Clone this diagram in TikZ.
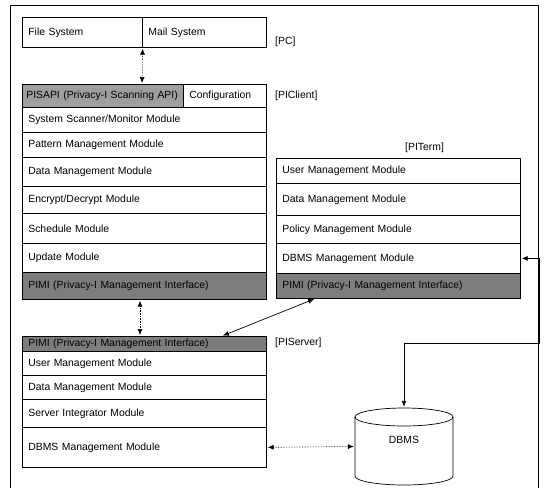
\documentclass[tikz,border=0pt]{standalone}
\usepackage{fontspec}
\setmainfont{Liberation Sans}
\usetikzlibrary{arrows.meta}
\definecolor{shadeA}{gray}{0.62}
\definecolor{shadeB}{gray}{0.49}
\newcommand\modfont{\fontsize{10.4}{12}\selectfont}
\begin{document}
\begin{tikzpicture}[x=1pt,y=-1pt,
  mod/.style={draw=black, line width=0.7pt, anchor=north west, inner xsep=6pt, inner ysep=0pt,
              text width=232pt, align=left, font=\modfont},
  pimi/.style={mod, fill=shadeB},
  tag/.style={anchor=west, inner sep=0pt, font=\modfont},
  dotarrow/.style={line width=0.6pt, densely dotted, {Latex[length=6pt,width=5pt]}-{Latex[length=6pt,width=5pt]}, shorten <=1pt, shorten >=1pt},
  solarrow/.style={line width=0.7pt, {Latex[length=6pt,width=5pt]}-{Latex[length=6pt,width=5pt]}, shorten <=1pt, shorten >=1pt}
]
\useasboundingbox (0,0) rectangle (546,488);
\fill[white] (0,0) rectangle (546,488);

% outer frame
\draw[line width=0.7pt] (10,488) -- (10,5) -- (538,5) -- (538,488);

% PC
\node[mod, text width=108pt, minimum height=30pt] (pcf) at (22,17) {File System};
\node[mod, text width=112pt, minimum height=30pt] (pcm) at (142,17) {Mail System};
\node[tag] (lpc) at (275,42) {[PC]};

% PIClient
\node[mod, minimum height=23pt, fill=shadeA, inner xsep=4pt, text width=153pt] (pisapi) at (22,84) {PISAPI (Privacy-I Scanning API)};
\node[mod, text width=71pt, minimum height=23pt] (conf) at (183,84) {Configuration};
\node[mod, minimum height=25pt] (c1) at (22,107) {System Scanner/Monitor Module};
\node[mod, minimum height=25pt] (c2) at (22,132) {Pattern Management Module};
\node[mod, minimum height=29pt] (c3) at (22,157) {Data Management Module};
\node[mod, minimum height=27pt] (c4) at (22,186) {Encrypt/Decrypt Module};
\node[mod, minimum height=30pt] (c5) at (22,213) {Schedule Module};
\node[mod, minimum height=29pt] (c6) at (22,243) {Update Module};
\node[pimi, minimum height=27pt] (c7) at (22,272) {PIMI (Privacy-I Management Interface)};
\node[tag] (lclient) at (275,96) {[PIClient]};

% PITerm
\node[tag] (lterm) at (405,148) {[PITerm]};
\node[mod, minimum height=25pt] (t1) at (276,158) {User Management Module};
\node[mod, minimum height=32pt] (t2) at (276,183) {Data Management Module};
\node[mod, minimum height=28pt] (t3) at (276,215) {Policy Management Module};
\node[mod, minimum height=30pt] (t4) at (276,243) {DBMS Management Module};
\node[pimi, minimum height=25pt] (t5) at (276,273) {PIMI (Privacy-I Management Interface)};

% PIServer
\node[pimi, minimum height=15pt] (s0) at (22,336) {PIMI (Privacy-I Management Interface)};
\node[mod, minimum height=24pt] (s1) at (22,351) {User Management Module};
\node[mod, minimum height=24pt] (s2) at (22,375) {Data Management Module};
\node[mod, minimum height=28pt] (s3) at (22,399) {Server Integrator Module};
\node[mod, minimum height=40pt] (s4) at (22,427) {DBMS Management Module};
\node[tag] (lserver) at (275,343) {[PIServer]};

% DBMS cylinder
\node[minimum width=98pt, minimum height=77pt, inner sep=0pt] (db) at (404,446.5) {};
\draw[line width=0.7pt, fill=white] (355,417) -- (355,476) arc[start angle=180, end angle=360, x radius=49pt, y radius=9pt] -- (453,417);
\draw[line width=0.7pt] (404,417) ellipse [x radius=49pt, y radius=9pt];
\node[font=\modfont, inner sep=0pt] (dbl) at (404,440) {DBMS};

% connectors
\draw[dotarrow] (pcf.south east) -- ([xshift=120pt]pisapi.north west);
\draw[dotarrow] ([xshift=118pt]c7.south west) -- ([xshift=118pt]s0.north west);
\draw[solarrow] ([xshift=39pt]t5.south west) -- ([xshift=200pt]s0.north west);
\coordinate (bend) at (539,343);
\draw[solarrow] (t4.east) -| (bend) -| (db.north);
\draw[dotarrow] (s4.east) -- (db.west);
\end{tikzpicture}
\end{document}
